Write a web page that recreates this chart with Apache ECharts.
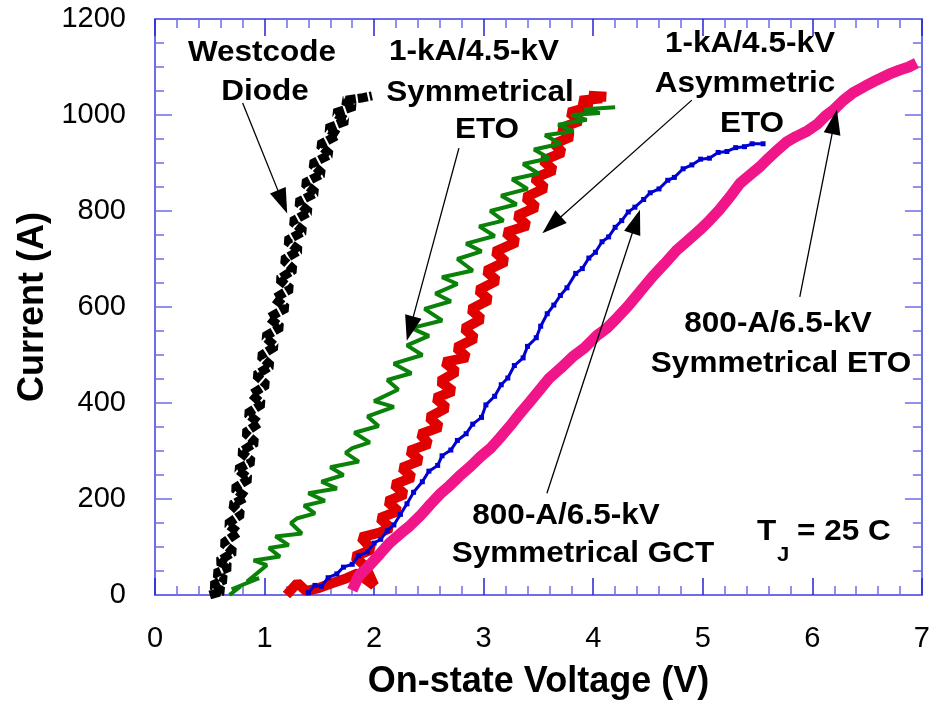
<!DOCTYPE html>
<html>
<head>
<meta charset="utf-8">
<script src="https://cdn.jsdelivr.net/npm/echarts@6/dist/echarts.min.js"></script>
<style>html,body{margin:0;padding:0;background:#fff}#c{width:933px;height:705px}</style>
</head>
<body>
<div id="c"></div>
<script>
// ---- data (V, A) ----
var xTicks = [0, 1, 2, 3, 4, 5, 6, 7];
var yTicks = [0, 200, 400, 600, 800, 1000, 1200];

var westcodeDiode = [[0.50,0],[0.62,8],[0.52,20],[0.64,32],[0.55,45],[0.68,58],[0.58,70],[0.72,90],[0.62,108],[0.76,130],[0.66,148],[0.79,168],[0.70,188],[0.83,204],[0.72,222],[0.86,242],[0.75,262],[0.89,278],[0.78,298],[0.92,318],[0.82,338],[0.95,358],[0.84,378],[0.98,398],[0.88,418],[1.02,438],[0.92,458],[1.06,478],[0.96,498],[1.10,518],[1.00,538],[1.15,558],[1.04,578],[1.20,598],[1.09,618],[1.24,638],[1.13,658],[1.27,678],[1.17,698],[1.32,718],[1.20,738],[1.36,758],[1.25,778],[1.41,798],[1.30,818],[1.47,838],[1.36,858],[1.53,878],[1.43,898],[1.60,918],[1.50,938],[1.67,958],[1.57,972],[1.75,988],[1.64,1004],[1.82,1018],[1.72,1030],[1.90,1036],[1.98,1040]];

var symEto45 = [[0.68,0],[0.78,18],[0.70,12],[0.95,35],[0.84,28],[1.02,62],[0.90,72],[1.14,80],[1.04,98],[1.22,104],[1.10,122],[1.34,128],[1.24,150],[1.30,160],[1.46,170],[1.36,186],[1.55,196],[1.40,212],[1.66,222],[1.52,236],[1.72,250],[1.60,266],[1.86,278],[1.74,296],[1.80,306],[1.96,318],[1.82,338],[2.04,352],[1.94,372],[2.18,392],[2.00,404],[2.22,428],[2.12,448],[2.34,462],[2.18,482],[2.44,500],[2.30,520],[2.50,540],[2.34,556],[2.62,572],[2.46,596],[2.70,612],[2.56,628],[2.76,648],[2.62,662],[2.90,676],[2.76,700],[2.98,716],[2.84,732],[3.10,748],[2.96,768],[3.18,780],[3.06,800],[3.30,814],[3.16,832],[3.40,846],[3.26,866],[3.50,878],[3.36,898],[3.60,910],[3.46,928],[3.70,940],[3.56,958],[3.82,966],[3.68,980],[3.94,990],[3.80,1000],[4.06,1004],[3.92,1012],[4.20,1016]];

var asymEto45 = [[1.20,0],[1.30,25],[1.38,8],[1.50,15],[1.62,25],[1.75,35],[1.85,45],[2.00,20],[1.92,60],[1.82,80],[1.98,95],[1.88,120],[2.05,130],[2.15,140],[2.05,160],[2.22,175],[2.12,195],[2.28,210],[2.18,230],[2.35,245],[2.25,265],[2.42,280],[2.32,300],[2.50,315],[2.42,335],[2.60,350],[2.50,370],[2.66,390],[2.56,410],[2.72,425],[2.60,445],[2.75,465],[2.64,485],[2.85,495],[2.75,515],[2.92,535],[2.82,555],[2.98,575],[2.88,595],[3.05,615],[2.95,635],[3.12,655],[3.02,675],[3.20,695],[3.10,715],[3.30,735],[3.20,755],[3.40,770],[3.30,790],[3.48,808],[3.38,828],[3.56,848],[3.46,868],[3.64,885],[3.54,905],[3.72,922],[3.64,940],[3.80,955],[3.70,972],[3.88,988],[3.78,1005],[3.98,1018],[3.88,1030],[4.08,1035],[3.96,1040],[4.12,1038]];

var symGct65 = [[1.40,5],[1.46,20],[1.52,18],[1.58,36],[1.66,44],[1.72,58],[1.80,64],[1.86,82],[1.94,90],[2.00,108],[2.06,116],[2.12,134],[2.18,146],[2.24,168],[2.30,190],[2.36,214],[2.44,236],[2.50,258],[2.58,270],[2.62,290],[2.70,302],[2.76,322],[2.84,336],[2.90,356],[2.98,370],[3.02,396],[3.10,414],[3.16,438],[3.22,452],[3.28,478],[3.36,494],[3.40,518],[3.48,536],[3.52,560],[3.58,586],[3.64,604],[3.70,624],[3.76,640],[3.84,670],[3.90,680],[3.96,702],[4.02,714],[4.08,736],[4.14,746],[4.20,766],[4.26,780],[4.32,798],[4.38,808],[4.46,824],[4.52,838],[4.60,846],[4.68,864],[4.74,870],[4.82,888],[4.90,896],[4.98,908],[5.06,910],[5.14,922],[5.22,924],[5.30,932],[5.38,934],[5.45,940],[5.55,940]];

var symEto65 = [[1.80,10],[1.86,40],[1.95,60],[2.05,85],[2.14,108],[2.24,128],[2.33,145],[2.42,165],[2.51,188],[2.60,210],[2.69,228],[2.78,248],[2.88,268],[2.97,288],[3.06,305],[3.15,328],[3.24,352],[3.33,378],[3.42,402],[3.51,427],[3.60,452],[3.70,472],[3.81,496],[3.92,515],[4.03,540],[4.12,555],[4.22,578],[4.31,600],[4.42,630],[4.54,663],[4.65,690],[4.76,718],[4.87,740],[4.97,760],[5.06,780],[5.15,802],[5.25,830],[5.34,858],[5.43,875],[5.52,892],[5.60,910],[5.68,927],[5.76,943],[5.85,955],[5.95,966],[6.05,982],[6.12,998],[6.19,1010],[6.28,1030],[6.37,1046],[6.48,1060],[6.59,1073],[6.70,1085],[6.80,1094],[6.88,1100],[6.95,1108]];

// annotation arrows: [tailV, tailA, headV, headA]
var arrows = [
  [0.80, 1025, 1.164, 819],
  [2.774, 931, 2.328, 555],
  [4.900, 1031, 3.621, 771],
  [3.577, 212, 4.391, 778],
  [5.885, 621, 6.202, 986]
];

var chart = echarts.init(document.getElementById('c'), null, {renderer: 'canvas'});
var AX = '#6d6de8', TK = '#2424d8';
var FONT = 'Liberation Sans, Arial, sans-serif';
function plain(v) { return String(v); }

function xAxisDef(pos, labels) {
  return {
    type: 'value', position: pos, min: 0, max: 7, interval: 1,
    axisLine: {show: true, onZero: false, lineStyle: {color: AX, width: 2}},
    axisTick: {show: true, inside: true, length: 17, lineStyle: {color: TK, width: 1.5}},
    minorTick: {show: true, splitNumber: 5, length: 9, lineStyle: {color: AX, width: 1.5}},
    splitLine: {show: false},
    axisLabel: {show: labels, margin: 29, fontSize: 29, color: '#000', fontFamily: FONT, formatter: plain},
    name: labels ? 'On-state Voltage (V)' : '', nameLocation: 'middle', nameGap: 69,
    nameTextStyle: {fontSize: 36, fontWeight: 'bold', color: '#000', fontFamily: FONT}
  };
}
function yAxisDef(pos, labels) {
  return {
    type: 'value', position: pos, min: 0, max: 1200, interval: 200,
    axisLine: {show: true, onZero: false, lineStyle: {color: AX, width: 2}},
    axisTick: {show: true, inside: true, length: 17, lineStyle: {color: AX, width: 1.5}},
    minorTick: {show: true, splitNumber: 4, length: 9, lineStyle: {color: AX, width: 1.5}},
    splitLine: {show: false},
    axisLabel: {show: labels, margin: 29, fontSize: 29, color: '#000', fontFamily: FONT, formatter: plain},
    name: labels ? 'Current (A)' : '', nameLocation: 'middle', nameGap: 92, nameRotate: 90,
    nameTextStyle: {fontSize: 36, fontWeight: 'bold', color: '#000', fontFamily: FONT}
  };
}

var markLineData = arrows.map(function (a) {
  return [{coord: [a[0], a[1]]}, {coord: [a[2], a[3]]}];
});

var option = {
  animation: false,
  backgroundColor: '#fff',
  grid: {left: 155, right: 10, top: 19, bottom: 110, containLabel: false},
  xAxis: [xAxisDef('bottom', true), xAxisDef('top', false)],
  yAxis: [yAxisDef('left', true), yAxisDef('right', false)],
  series: [
    {name: '1-kA/4.5-kV Asymmetric ETO', type: 'line', data: asymEto45, showSymbol: false,
      lineStyle: {color: '#e00000', width: 10}, itemStyle: {color: '#e00000'}},
    {name: '800-A/6.5-kV Symmetrical ETO', type: 'line', data: symEto65, showSymbol: false,
      lineStyle: {color: '#f0168a', width: 11}, itemStyle: {color: '#f0168a'}},
    {name: '800-A/6.5-kV Symmetrical GCT', type: 'line', data: symGct65, symbol: 'rect', symbolSize: 5, showSymbol: true,
      lineStyle: {color: '#0000d0', width: 3}, itemStyle: {color: '#0000d0'}},
    {name: '1-kA/4.5-kV Symmetrical ETO', type: 'line', data: symEto45, showSymbol: false,
      lineStyle: {color: '#0a820a', width: 4}, itemStyle: {color: '#0a820a'}},
    {name: 'Westcode Diode', type: 'line', data: westcodeDiode, showSymbol: false,
      lineStyle: {color: '#000', width: 9, type: [10, 2]}, itemStyle: {color: '#000'}},
    {name: 'arrows', type: 'line', data: [], silent: true,
      markLine: {silent: true, symbol: ['none', 'triangle'], symbolSize: [17, 25],
        label: {show: false}, lineStyle: {color: '#000', width: 1.3, type: 'solid'},
        emphasis: {disabled: true}, data: markLineData}}
  ]
};
chart.setOption(option);

function T(text, x, y, size, align) {
  return {type: 'text', x: x, y: y, scaleX: 1.05, z: 100,
    style: {text: text, font: 'bold ' + (size || 30) + 'px ' + FONT, fill: '#000',
      textAlign: align || 'center', textVerticalAlign: 'middle'}};
}
chart.setOption({graphic: [
  T('Westcode', 262, 53), T('Diode', 265, 92),
  T('1-kA/4.5-kV', 474, 52), T('Symmetrical', 480, 93), T('ETO', 487, 130),
  T('1-kA/4.5-kV', 750, 44), T('Asymmetric', 745, 84), T('ETO', 752, 124),
  T('800-A/6.5-kV', 778, 324), T('Symmetrical ETO', 781, 364),
  T('800-A/6.5-kV', 566, 516), T('Symmetrical GCT', 583, 554),
  T('T', 757, 532, 30, 'left'), T('J', 777, 555, 21, 'left'), T('= 25 C', 797, 532, 30, 'left')
]});
</script>
</body>
</html>
